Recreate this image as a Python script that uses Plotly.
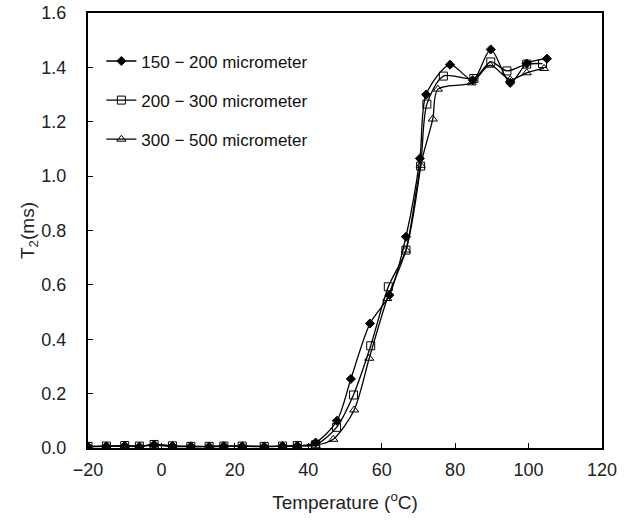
import plotly.graph_objects as go

# Temperatures (°C) common low-temperature region
t_low = [-20, -15, -10, -6, -2, 3, 8, 13, 17, 22, 28, 33, 37, 42]

# Series 1: 150 - 200 micrometer
s1_low = [0.005, 0.006, 0.008, 0.005, 0.012, 0.007, 0.006, 0.005, 0.007, 0.006, 0.005, 0.007, 0.008, 0.02]
s1_t_high = [47.8, 51.6, 56.8, 62.1, 66.6, 70.4, 72.1, 78.6, 84.8, 89.7, 95, 99.5, 105]
s1_high = [0.10, 0.254, 0.458, 0.5625, 0.777, 1.065, 1.30, 1.41, 1.353, 1.466, 1.343, 1.414, 1.432]

# Series 2: 200 - 300 micrometer
s2_low = [0.006, 0.007, 0.009, 0.007, 0.013, 0.008, 0.006, 0.006, 0.007, 0.007, 0.006, 0.007, 0.009, 0.012]
s2_t_high = [47.7, 52.3, 57, 61.8, 66.6, 70.6, 72.3, 76.8, 85.1, 89.7, 94.1, 99.5, 103.8]
s2_high = [0.076, 0.195, 0.376, 0.593, 0.728, 1.037, 1.265, 1.368, 1.359, 1.42, 1.387, 1.412, 1.414]

# Series 3: 300 - 500 micrometer
s3_low = [0.005, 0.006, 0.008, 0.006, 0.011, 0.006, 0.005, 0.005, 0.006, 0.006, 0.006, 0.006, 0.008, 0.01]
s3_t_high = [46.8, 52.5, 56.6, 61.5, 66.6, 70.6, 73.9, 75.3, 84.5, 89.5, 95, 99.5, 104.2]
s3_high = [0.032, 0.14, 0.33, 0.55, 0.728, 1.04, 1.21, 1.32, 1.343, 1.408, 1.355, 1.38, 1.396]

names = ["150 \u2212 200 micrometer", "200 \u2212 300 micrometer", "300 \u2212 500 micrometer"]

x_ticks = [-20, 0, 20, 40, 60, 80, 100, 120]
y_ticks = [0.0, 0.2, 0.4, 0.6, 0.8, 1.0, 1.2, 1.4, 1.6]

series = [
    (t_low + s1_t_high, s1_low + s1_high, dict(symbol="diamond", size=7, color="black",
                                               line=dict(color="black", width=1))),
    (t_low + s2_t_high, s2_low + s2_high, dict(symbol="square-open", size=8, color="black",
                                               line=dict(color="black", width=1))),
    (t_low + s3_t_high, s3_low + s3_high, dict(symbol="triangle-up-open", size=8, color="black",
                                               line=dict(color="black", width=1))),
]

fig = go.Figure()
for i, (xs, ys, mk) in enumerate(series):
    fig.add_trace(go.Scatter(
        x=xs, y=ys, mode="lines+markers", name=names[i],
        legendgroup=f"g{i}",
        line=dict(color="black", width=1.3, shape="spline", smoothing=0.8),
        marker=mk,
    ))

FONT = "Liberation Sans, Arial, sans-serif"
axis_common = dict(
    showline=True, linecolor="black", linewidth=2, mirror=True,
    ticks="inside", ticklen=5, tickcolor="black", tickwidth=1,
    showgrid=False, zeroline=False, automargin=False,
    tickfont=dict(family=FONT, size=18, color="#222"),
)

fig.update_layout(
    width=629, height=520,
    margin=dict(l=88, r=27, t=13, b=72),
    paper_bgcolor="white", plot_bgcolor="white",
    font=dict(family=FONT, size=18, color="#222"),
    xaxis=dict(range=[-20, 120], tickvals=x_ticks,
               ticktext=[str(v).replace("-", "\u2212") for v in x_ticks],
               ticklabelstandoff=4,
               title=dict(text="Temperature (<sup>o</sup>C)", font=dict(size=19), standoff=17),
               **axis_common),
    yaxis=dict(range=[0, 1.6], tickvals=y_ticks, tickformat=".1f",
               ticklabelstandoff=16,
               title=dict(text="T<sub>2</sub>(ms)", font=dict(size=19), standoff=0),
               **axis_common),
    legend=dict(x=0.026, y=0.93, xanchor="left", yanchor="top",
                bgcolor="rgba(0,0,0,0)", tracegroupgap=14,
                font=dict(size=17, color="#111")),
    showlegend=True,
)

fig.write_html("out.html", config={"displayModeBar": False},
               post_script="document.body.style.margin='0';document.body.style.overflow='hidden';")
